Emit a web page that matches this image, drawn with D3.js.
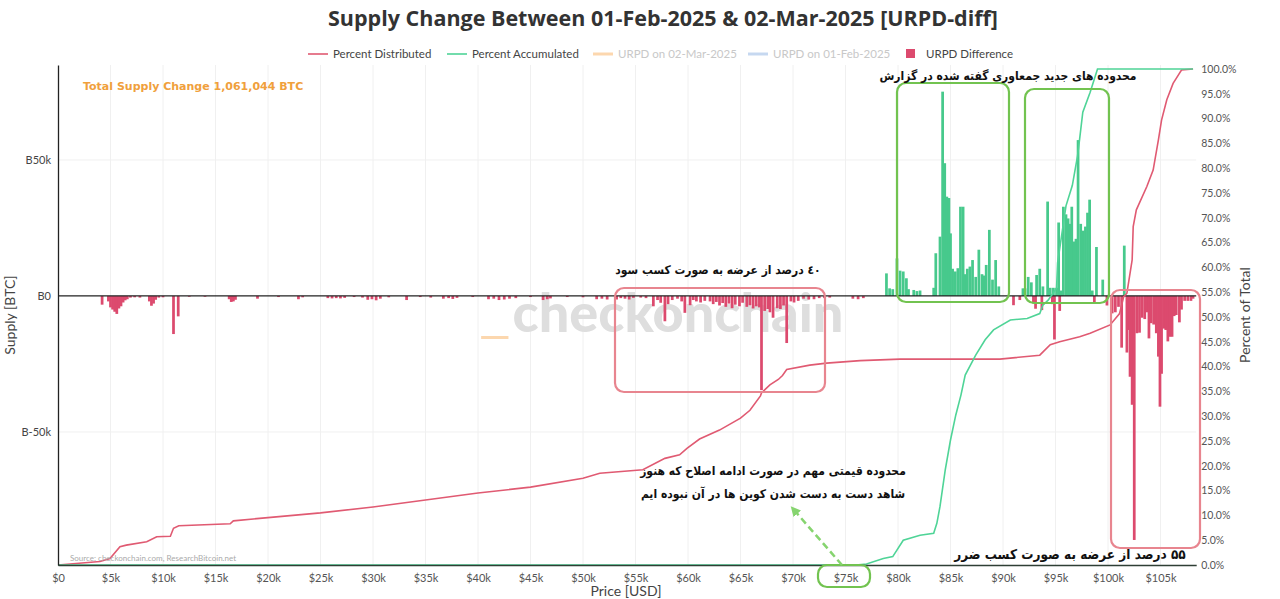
<!DOCTYPE html>
<html>
<head>
<meta charset="utf-8">
<script src="https://cdn.jsdelivr.net/npm/d3@7"></script>
<style>
  html, body { margin: 0; padding: 0; background: #fff; }
  svg { display: block; }
</style>
</head>
<body>
<svg id="chart" width="1280" height="599"></svg>
<script>
// ---------------- DATA ----------------
const chartTitle = "Supply Change Between 01-Feb-2025 & 02-Mar-2025 [URPD-diff]";
const totalChangeLabel = "Total Supply Change 1,061,044 BTC";
const legendNames = ["Percent Distributed", "Percent Accumulated", "URPD on 02-Mar-2025", "URPD on 01-Feb-2025", "URPD Difference"];

// URPD difference bars: price (k USD) and supply change (k BTC)
const diffPrice = [
  4.2, 4.8, 5.0, 5.2, 5.4, 5.6, 5.8, 6.0, 6.2, 6.4, 6.6, 6.9, 7.3, 7.8,
  8.7, 8.9, 9.1, 9.3, 9.6, 10.0, 11.0, 11.45, 12.5, 14.0,
  16.3, 16.5, 16.7, 16.9, 19.0, 21.0, 22.9, 23.3,
  25.7, 26.1, 26.5, 26.9, 27.3, 28.2, 29.0, 29.5, 29.9, 30.3, 30.7, 31.5, 33.2, 34.5, 35.5,
  36.7, 37.2, 37.6, 38.0, 39.5, 41.0, 41.5, 42.0, 42.5, 43.0, 43.6, 45.0, 46.2, 46.6, 46.9,
  48.5, 50.0, 51.3, 51.8, 52.3,
  53.2, 53.6, 54.0, 54.4, 54.8, 55.5, 56.0,
  56.7, 57.1, 57.4, 57.8, 58.1, 58.5, 59.0, 59.4, 59.7, 60.2, 60.5, 60.8, 61.2, 61.6, 62.1,
  62.4, 62.7, 63.0, 63.3, 63.6, 63.9, 64.2, 64.5, 64.9, 65.2, 65.6, 65.9, 66.2, 66.5, 66.8,
  67.0, 67.3, 67.6, 67.8, 68.1, 68.5, 68.8, 69.1, 69.4, 69.8, 70.1, 70.5, 71.0, 71.5, 72.0,
  72.5, 73.0, 73.5, 75.7, 76.2, 76.7,
  78.9, 79.2, 79.5, 79.9, 80.2, 80.5, 80.8, 81.0, 81.5, 81.8, 82.1, 83.4, 83.6, 84.0, 84.25,
  84.45, 84.65, 84.85, 85.0, 85.2, 85.45, 85.7, 85.95, 86.2, 86.4, 86.6, 86.85, 87.1, 87.4,
  87.7, 88.0, 88.2, 88.4, 88.7, 89.0, 89.3, 89.6,
  91.0, 91.6, 91.9, 92.1, 92.4, 92.7, 92.9, 93.1, 93.2, 93.5, 93.7, 93.8, 94.25, 94.5, 94.7,
  94.8, 94.9, 95.1, 95.3, 95.4, 95.55, 95.75, 96.0, 96.2, 96.35, 96.55, 96.75, 96.95, 97.15,
  97.4, 97.65, 97.85, 98.05, 98.25, 98.5, 98.7, 98.9, 99.5, 99.9,
  100.4, 100.7, 101.0, 101.3, 101.55, 101.8, 101.95, 102.1, 102.3, 102.5, 102.75, 103.0,
  103.25, 103.5, 103.7, 103.9, 104.1, 104.35, 104.6, 104.8, 104.95, 105.1, 105.3, 105.5,
  105.7, 105.9, 106.1, 106.3, 106.5, 106.8, 107.0, 107.3, 107.6, 107.9, 108.1
];
const diffValue = [
  -3.2, -2.0, -4.2, -5.0, -5.8, -6.6, -4.6, -3.8, -2.4, -1.6, -1.2, -0.6, -0.5, -0.6,
  -2.0, -3.6, -2.8, -1.4, -0.6, -0.5, -14.0, -7.5, -0.3, -0.3,
  -1.2, -2.2, -2.0, -1.4, -1.0, -0.4, -1.2, -0.5,
  -0.8, -0.9, -0.8, -0.9, -0.7, -0.4, -0.6, -1.4, -1.2, -1.6, -1.0, -0.5, -1.5, -0.4, -0.6,
  -1.0, -0.8, -1.1, -0.7, -0.4, -1.2, -1.0, -1.5, -1.3, -1.0, -0.8, -0.4, -1.5, -1.2, -0.9,
  -0.4, -0.5, -1.2, -1.0, -1.3,
  -1.3, -0.8, -1.0, -1.3, -0.7, -0.6, -0.8,
  -3.8, -1.5, -2.5, -9.3, -3.0, -1.5, -1.0, -2.0, -6.2, -3.4, -1.5, -2.0, -2.4, -1.8, -2.0,
  -3.0, -2.2, -3.5, -2.6, -4.0, -2.8, -4.5, -3.2, -3.8, -2.5, -4.0, -3.4, -4.6, -3.8, -4.2,
  -34.6, -5.5, -4.8, -6.0, -8.0, -4.5, -4.8, -3.5, -17.3, -2.0, -2.4, -1.8, -1.0, -1.3, -1.2,
  -0.8, -0.8, -0.6, -1.0, -1.2, -0.8,
  8.3, 2.8, 2.5, 13.8, 9.3, 9.0, 6.5, 2.5, 2.2, 1.8, 2.0, 3.0, 15.7, 21.8, 75.1,
  48.8, 36.5, 36.0, 23.0, 10.0, 9.0, 10.2, 32.8, 32.8, 8.0, 10.0, 10.8, 13.2, 7.0,
  17.0, 8.0, 7.5, 11.4, 24.3, 6.0, 13.2, 3.5,
  -3.4, -1.5, 2.8, 2.8, 7.0, 5.0, -2.8, -4.7, 7.7, 10.0, -5.2, 3.5, 34.7, 3.0, -3.0,
  3.0, -16.0, 3.0, 27.0, -5.5, 2.0, 32.8, 30.0, 28.5, 26.5, 32.8, 20.0, 21.0, 57.3,
  26.5, 24.0, 25.5, 30.6, 35.4, 2.0, -2.5, 18.0, 6.0, -3.5,
  -6.4, -6.0, -4.0, -19.0, 18.5, -20.8, -12.5, -29.7, -40.0, -89.7, -13.7, -13.5,
  -8.0, -8.5, -6.0, -15.6, -10.0, -10.5, -13.7, -22.3, -40.7, -28.6, -12.0, -12.5,
  -16.7, -15.0, -15.0, -7.4, -7.0, -9.7, -5.0, -1.8, -1.8, -1.8, -1.0
];

// Percent Distributed line: price (k USD), percent of total
const distPrice = [0, 4.0, 4.95, 5.9, 6.5, 8.45, 9.4, 10.7, 11.0, 11.5, 16.4, 16.7, 19.2, 25.0, 30.0,
  35.0, 40.0, 45.0, 50.0, 51.6, 55.7, 57.8, 59.2, 59.9, 61.1, 63.0, 65.0, 65.9, 66.9, 67.0, 67.8,
  68.6, 69.0, 69.4, 71.6, 73.2, 76.4, 80.2, 89.7, 93.5, 94.5, 95.4, 97.3, 98.3, 100.2, 101.1,
  101.5, 101.8, 102.3, 102.4, 102.7, 103.7, 104.3, 104.8, 105.1, 105.6, 106.2, 106.5, 107.0, 108.1];
const distPct = [0, 0.7, 1.3, 3.7, 4.0, 4.7, 5.7, 5.8, 7.4, 7.9, 8.3, 8.9, 9.4, 10.5, 11.7,
  13.1, 14.5, 15.7, 17.5, 18.5, 19.2, 21.5, 22.2, 23.5, 25.4, 27.2, 29.6, 31.2, 34.1, 34.7, 36.3,
  37.4, 38.2, 39.4, 40.3, 40.7, 41.2, 41.5, 41.5, 42.3, 44.4, 45.0, 46.0, 46.7, 48.4, 50.7,
  54.1, 54.8, 61.5, 68.2, 71.6, 76.3, 79.6, 85.7, 89.7, 93.8, 97.1, 98.1, 99.8, 100.0];

// Percent Accumulated line: price (k USD), percent of total
const accPrice = [0, 76.0, 77.0, 78.6, 79.5, 80.5, 82.1, 83.4, 83.7, 84.0, 84.5, 85.0, 85.5, 86.0,
  86.4, 87.4, 88.3, 89.1, 90.7, 92.3, 93.5, 93.8, 94.3, 95.1, 95.2, 96.0, 96.6, 97.1, 97.3, 97.6,
  98.3, 98.7, 99.0, 108.1];
const accPct = [0, 0, 0.2, 1.3, 1.7, 5.0, 6.0, 6.4, 8.4, 11.8, 19.2, 25.2, 30.2, 34.3,
  38.3, 42.3, 45.4, 47.4, 49.4, 49.7, 50.7, 52.4, 53.4, 55.8, 60.9, 72.4, 76.5, 82.5, 85.9, 91.3,
  95.3, 98.0, 100.0, 100.0];

const xTickValues = [0, 5, 10, 15, 20, 25, 30, 35, 40, 45, 50, 55, 60, 65, 70, 75, 80, 85, 90, 95, 100, 105];
const leftTickValues = [-50, 0, 50];
const rightTickValues = d3.range(0, 101, 5);

// ---------------- SCALES ----------------
const svg = d3.select("#chart");
const L = 58, R = 1196.2, T = 65, B = 565;
const x = d3.scaleLinear().domain([0, 108.4]).range([L, R]);
const yL = d3.scaleLinear().domain([-98.9, 84.9]).range([B, T]);
const yR = d3.scaleLinear().domain([0, 100.8]).range([B, T]);

const RED = "#dc4a6e", GREEN = "#47c98c";
const txtFont = "Lato, 'Open Sans', sans-serif";

// Title
svg.append("text").attr("x", 663).attr("y", 26).attr("text-anchor", "middle")
  .attr("font-family", "'Open Sans', sans-serif").attr("font-weight", 700).attr("font-size", 21.5)
  .attr("fill", "#333").text(chartTitle);

// Gridlines
const grid = svg.append("g");
grid.selectAll("line.vx").data(xTickValues.slice(1)).join("line")
  .attr("x1", d => x(d)).attr("x2", d => x(d)).attr("y1", T).attr("y2", B)
  .attr("stroke", "#f0f0f0").attr("stroke-width", 1);
grid.selectAll("line.hy").data([-50, 50]).join("line")
  .attr("x1", L).attr("x2", R).attr("y1", d => yL(d)).attr("y2", d => yL(d))
  .attr("stroke", "#f0f0f0").attr("stroke-width", 1);

// Watermark
svg.append("text").attr("x", 678).attr("y", 332).attr("text-anchor", "middle")
  .attr("font-family", "Lato, sans-serif").attr("font-weight", 900).attr("font-size", 54)
  .attr("fill", "#dedede").text("checkonchain");

// Faint URPD marker
svg.append("rect").attr("x", x(40.3)).attr("width", x(42.9) - x(40.3)).attr("y", 336).attr("height", 3)
  .attr("fill", "#fcd7ae");

// Bars
const bw = x(0.26) - x(0);
svg.append("g").selectAll("rect").data(diffPrice.map((p, i) => ({ p, v: diffValue[i] }))).join("rect")
  .attr("x", d => x(d.p) - bw / 2).attr("width", bw)
  .attr("y", d => yL(Math.max(0, d.v))).attr("height", d => Math.abs(yL(d.v) - yL(0)))
  .attr("fill", d => d.v >= 0 ? GREEN : RED);

// Zero line
svg.append("line").attr("x1", L).attr("x2", R).attr("y1", yL(0)).attr("y2", yL(0))
  .attr("stroke", "#222").attr("stroke-width", 1.3);

// Lines
const lineGen = d3.line().x(d => x(d[0])).y(d => yR(d[1]));
svg.append("path").datum(distPrice.map((p, i) => [p, distPct[i]])).attr("d", lineGen)
  .attr("fill", "none").attr("stroke", "#e05a72").attr("stroke-width", 1.6);
svg.append("path").datum(accPrice.map((p, i) => [p, accPct[i]])).attr("d", lineGen)
  .attr("fill", "none").attr("stroke", "#4fd497").attr("stroke-width", 1.6);

// Axes
const gx = svg.append("g").attr("transform", `translate(0,${B})`)
  .call(d3.axisBottom(x).tickValues(xTickValues).tickSize(0).tickPadding(9)
    .tickFormat(d => d === 0 ? "$0" : "$" + d + "k"));
gx.select(".domain").attr("stroke", "#2f3f35").attr("stroke-width", 1.3);
gx.selectAll("text").attr("font-family", txtFont).attr("font-size", 11).attr("fill", "#555");

const gl = svg.append("g").attr("transform", `translate(${L},0)`)
  .call(d3.axisLeft(yL).tickValues(leftTickValues).tickSize(0).tickPadding(7)
    .tickFormat(d => "B" + (d === 0 ? "0" : d + "k")));
gl.select(".domain").attr("stroke", "#222").attr("stroke-width", 1.3);
gl.selectAll("text").attr("font-family", txtFont).attr("font-size", 11).attr("fill", "#444");

const gr = svg.append("g").attr("transform", `translate(${R},0)`)
  .call(d3.axisRight(yR).tickValues(rightTickValues).tickSize(0).tickPadding(5)
    .tickFormat(d => d.toFixed(1) + "%"));
gr.select(".domain").remove();
gr.selectAll("text").attr("font-family", txtFont).attr("font-size", 10.5).attr("fill", "#555");

// Axis titles
svg.append("text").attr("x", 626).attr("y", 596).attr("text-anchor", "middle")
  .attr("font-family", txtFont).attr("font-size", 14).attr("fill", "#444").text("Price [USD]");
svg.append("text").attr("transform", "translate(15,315) rotate(-90)").attr("text-anchor", "middle")
  .attr("font-family", txtFont).attr("font-size", 14).attr("fill", "#444").text("Supply [BTC]");
svg.append("text").attr("transform", "translate(1250,315) rotate(-90)").attr("text-anchor", "middle")
  .attr("font-family", txtFont).attr("font-size", 14).attr("fill", "#444").text("Percent of Total");

// Total supply change
svg.append("text").attr("x", 83).attr("y", 90)
  .attr("font-family", "'DejaVu Sans', Verdana, sans-serif").attr("font-weight", 700).attr("font-size", 11)
  .attr("fill", "#f0a03c").text(totalChangeLabel);

// Source
svg.append("text").attr("x", 70).attr("y", 561)
  .attr("font-family", txtFont).attr("font-size", 8).attr("fill", "#aaa")
  .text("Source: checkonchain.com, ResearchBitcoin.net");

// Legend
const legX = [308, 447, 593, 748, 906];
const legColor = ["#e05a72", "#4fd497", "#fcd7ae", "#c6d8f0", RED];
const legText = ["#444", "#444", "#c8c8c8", "#c8c8c8", "#444"];
const lg = svg.append("g");
legendNames.forEach((n, i) => {
  if (i === 4) {
    lg.append("rect").attr("x", legX[i]).attr("y", 49).attr("width", 9).attr("height", 9).attr("fill", legColor[i]);
    lg.append("text").attr("x", legX[i] + 20).attr("y", 58).attr("font-family", txtFont).attr("font-size", 11.5)
      .attr("fill", legText[i]).text(n);
  } else {
    lg.append("line").attr("x1", legX[i]).attr("x2", legX[i] + 20).attr("y1", 54).attr("y2", 54)
      .attr("stroke", legColor[i]).attr("stroke-width", i < 2 ? 1.6 : 3);
    lg.append("text").attr("x", legX[i] + 25).attr("y", 58).attr("font-family", txtFont).attr("font-size", 11.5)
      .attr("fill", legText[i]).text(n);
  }
});

// Annotation boxes
const boxG = "#72c350", boxR = "#e8858f";
const boxes = [
  [897, 83, 112, 219, boxG], [1025, 89, 84, 214, boxG],
  [615, 288, 210, 104, boxR], [1111, 290, 89, 258, boxR],
  [818, 565, 52, 22, boxG]
];
svg.append("g").selectAll("rect").data(boxes).join("rect")
  .attr("x", d => d[0]).attr("y", d => d[1]).attr("width", d => d[2]).attr("height", d => d[3])
  .attr("rx", 9).attr("fill", "none").attr("stroke", d => d[4]).attr("stroke-width", 2.2);

// Arrow
svg.append("defs").append("marker").attr("id", "ah").attr("viewBox", "0 0 10 10")
  .attr("refX", 5).attr("refY", 5).attr("markerWidth", 4).attr("markerHeight", 4).attr("orient", "auto")
  .append("path").attr("d", "M0,0 L10,5 L0,10 z").attr("fill", "#86d46f");
svg.append("line").attr("x1", 842).attr("y1", 565).attr("x2", 794).attr("y2", 510)
  .attr("stroke", "#86d46f").attr("stroke-width", 2.5).attr("stroke-dasharray", "7,4")
  .attr("marker-end", "url(#ah)");

// Persian annotations
const fa = "'DejaVu Sans Condensed', 'DejaVu Sans', sans-serif";
const notes = [
  [1008, 80, 12, "محدوده های جدید جمعاوری گفته شده در گزارش"],
  [718, 274, 12, "٤٠ درصد از عرضه به صورت کسب سود"],
  [773, 475, 12, "محدوده قیمتی مهم در صورت ادامه اصلاح که هنوز"],
  [773, 498, 12, "شاهد دست به دست شدن کوین ها در آن نبوده ایم"],
  [1070, 559, 13.5, "۵۵ درصد از عرضه به صورت کسب ضرر"]
];
svg.append("g").selectAll("text").data(notes).join("text")
  .attr("x", d => d[0]).attr("y", d => d[1]).attr("text-anchor", "middle").attr("direction", "rtl")
  .attr("font-family", fa).attr("font-weight", 700).attr("font-size", d => d[2]).attr("fill", "#111")
  .text(d => d[3]);
</script>
</body>
</html>
